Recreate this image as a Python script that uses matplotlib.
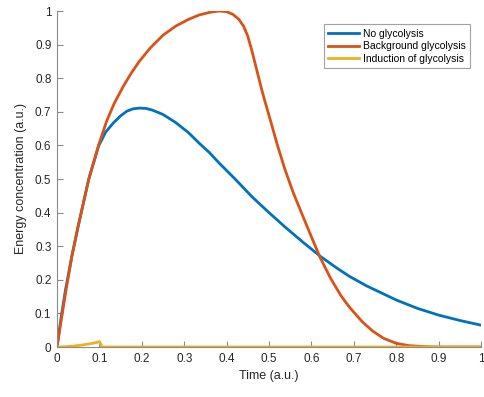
import matplotlib
matplotlib.use("Agg")
import matplotlib.pyplot as plt

plt.rcParams['font.family'] = ['Liberation Sans', 'DejaVu Sans']

# Series
t_blue = [0, 0.01, 0.02, 0.035, 0.05, 0.075, 0.098, 0.115, 0.133, 0.15, 0.165, 0.18, 0.195,
          0.21, 0.225, 0.25, 0.28, 0.31, 0.335, 0.36, 0.382, 0.42, 0.46, 0.5, 0.538, 0.58,
          0.623, 0.66, 0.69, 0.73, 0.77, 0.8, 0.85, 0.9, 0.95, 1.0]
e_blue = [0, 0.09, 0.17, 0.27, 0.36, 0.50, 0.598, 0.64, 0.667, 0.688, 0.702, 0.709, 0.711,
          0.710, 0.705, 0.692, 0.668, 0.638, 0.607, 0.578, 0.548, 0.50, 0.447, 0.40, 0.357, 0.312,
          0.268, 0.235, 0.21, 0.182, 0.158, 0.14, 0.115, 0.095, 0.079, 0.065]

t_orange = [0, 0.01, 0.02, 0.035, 0.05, 0.075, 0.098, 0.117, 0.135, 0.156, 0.175, 0.194, 0.22,
            0.25, 0.28, 0.31, 0.335, 0.36, 0.382, 0.4, 0.415, 0.429, 0.44, 0.45, 0.46, 0.47,
            0.483, 0.493, 0.503, 0.52, 0.538, 0.557, 0.577, 0.6, 0.62, 0.645, 0.67, 0.69,
            0.72, 0.745, 0.77, 0.8, 0.83, 0.87, 0.9, 1.0]
e_orange = [0, 0.08, 0.16, 0.27, 0.36, 0.50, 0.60, 0.672, 0.725, 0.775, 0.815, 0.85, 0.89,
            0.928, 0.955, 0.975, 0.988, 0.996, 1.0, 0.998, 0.99, 0.975, 0.955, 0.925, 0.88, 0.83,
            0.765, 0.72, 0.676, 0.60, 0.527, 0.46, 0.398, 0.328, 0.268, 0.205, 0.152, 0.118,
            0.075, 0.047, 0.026, 0.011, 0.004, 0.001, 0, 0]

t_yellow = [0, 0.02, 0.04, 0.06, 0.08, 0.095, 0.1, 0.102, 0.106, 0.2, 0.5, 1.0]
e_yellow = [0, 0.001, 0.003, 0.006, 0.01, 0.014, 0.016, 0.012, 0.0, 0, 0, 0]

labels = ['No glycolysis', 'Background glycolysis', 'Induction of glycolysis']
colors = ['#0072BD', '#D95319', '#EDB120']

x_ticks = [0, 0.1, 0.2, 0.3, 0.4, 0.5, 0.6, 0.7, 0.8, 0.9, 1]
y_ticks = [0, 0.1, 0.2, 0.3, 0.4, 0.5, 0.6, 0.7, 0.8, 0.9, 1]
x_ticklabels = ['0', '0.1', '0.2', '0.3', '0.4', '0.5', '0.6', '0.7', '0.8', '0.9', '1']
y_ticklabels = ['0', '0.1', '0.2', '0.3', '0.4', '0.5', '0.6', '0.7', '0.8', '0.9', '1']

fig = plt.figure(figsize=(4.85, 3.97), dpi=100)
ax = fig.add_axes([57/485, 50/397, 424/485, 336/397])

lw = 2.0
ax.plot(t_blue, e_blue, color=colors[0], lw=lw, label=labels[0], solid_joinstyle='round')
ax.plot(t_orange, e_orange, color=colors[1], lw=lw, label=labels[1], solid_joinstyle='round')
ax.plot(t_yellow, e_yellow, color=colors[2], lw=lw, label=labels[2], solid_joinstyle='round')

ax.set_xlim(0, 1)
ax.set_ylim(0, 1)
ax.set_xticks(x_ticks)
ax.set_xticklabels(x_ticklabels)
ax.set_yticks(y_ticks)
ax.set_yticklabels(y_ticklabels)

for s in ['top', 'right']:
    ax.spines[s].set_visible(False)
for s in ['left', 'bottom']:
    ax.spines[s].set_color('#8a8a8a')
    ax.spines[s].set_linewidth(0.8)
ax.tick_params(direction='in', length=4, width=0.8, color='#8a8a8a',
               labelcolor='#262626', labelsize=8.5, pad=4)

ax.set_xlabel('Time (a.u.)', fontsize=9, color='#262626', labelpad=4)
ax.set_ylabel('Energy concentration (a.u.)', fontsize=9, color='#262626', labelpad=6)

leg = ax.legend(loc='upper right', bbox_to_anchor=(0.975, 0.96), fontsize=7.5,
                frameon=True, fancybox=False, handlelength=3.0, handletextpad=0.4,
                borderpad=0.4, labelspacing=0.25, borderaxespad=0)
leg.get_frame().set_edgecolor('#8a8a8a')
leg.get_frame().set_linewidth(0.8)

fig.savefig('out.png', dpi=100)
